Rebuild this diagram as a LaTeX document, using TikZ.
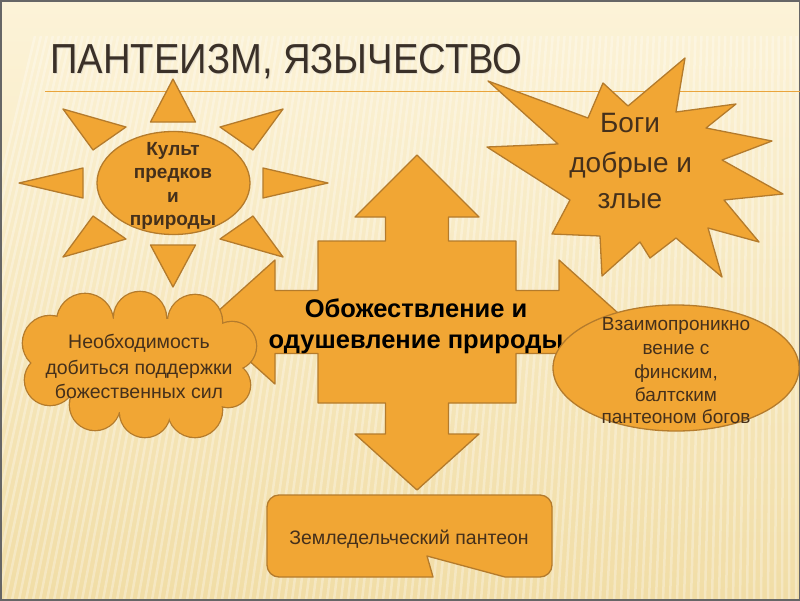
\documentclass[tikz,border=0pt]{standalone}
\usepackage{fontspec}
\setmainfont{Liberation Sans}
\definecolor{bgtop}{HTML}{FCF3D8}
\definecolor{bgbot}{HTML}{F1DDA6}
\definecolor{orf}{HTML}{F1A634}
\definecolor{orb}{HTML}{B47B2C}
\definecolor{txt}{HTML}{45301B}
\definecolor{ttl}{HTML}{3A3028}
\definecolor{lineor}{HTML}{E9A43C}
\tikzset{
  shp/.style={fill=orf, draw=orb, line width=1.3pt, line join=round},
  lbl/.style={anchor=base, inner sep=0pt, text=txt},
}
\begin{document}
\begin{tikzpicture}[x=1pt,y=-1pt]
\useasboundingbox (0,0) rectangle (800,600);
% background
\shade[top color=bgtop, bottom color=bgbot] (0,0) rectangle (800,600);
\begin{scope}
  \clip (0,36) rectangle (800,600);
  \foreach \i in {-100,-93,...,820} {
    \draw[white, opacity=0.3, line width=2.5pt] (\i,600) -- ({\i+0.15*(800-\i)},36);
  }
\end{scope}
\draw[black!60, line width=3pt] (0,0) rectangle (800,600);
% title
\node[anchor=base west, inner sep=0pt, text=black!30, opacity=0.3] at (51,74.3)
  {\fontsize{42}{48}\selectfont\scalebox{0.91}[1]{ПАНТЕИЗМ, ЯЗЫЧЕСТВО}};
\node (title) [anchor=base west, inner sep=0pt, text=ttl] at (50,73.3)
  {\fontsize{42}{48}\selectfont\scalebox{0.91}[1]{ПАНТЕИЗМ, ЯЗЫЧЕСТВО}};
\draw[lineor, line width=1.6pt] (45,91.5) -- (800,91.5);
% quad arrow
\draw[shp, shift={(417,322)}]
  (0,-167) -- (62,-105) -- (31.5,-105) -- (31.5,-81) -- (99,-81) -- (99,-31.5)
  -- (142,-31.5) -- (142,-62) -- (211,0) -- (142,62) -- (142,31.5) -- (99,31.5)
  -- (99,81) -- (31.5,81) -- (31.5,112) -- (62,112) -- (0,168) -- (-62,112)
  -- (-31.5,112) -- (-31.5,81) -- (-99,81) -- (-99,31.5) -- (-142,31.5)
  -- (-142,62) -- (-211,0) -- (-142,-62) -- (-142,-31.5) -- (-99,-31.5)
  -- (-99,-81) -- (-31.5,-81) -- (-31.5,-105) -- (-62,-105) -- cycle;
\node (qa1) [lbl, text=black, font=\bfseries\fontsize{25.5}{31}\selectfont] at (416,317) {Обожествление и};
\node (qa2) [lbl, text=black, font=\bfseries\fontsize{25.5}{31}\selectfont] at (416,348) {одушевление природы};
% sun
\foreach \a/\b/\c in {
  {(173,79)}/{(150.5,122)}/{(195.5,122)},
  {(173,287)}/{(150.5,245)}/{(195.5,245)},
  {(19,183)}/{(83,168)}/{(83,198)},
  {(328,183)}/{(263,168)}/{(263,198)},
  {(63,109)}/{(93,150)}/{(126,127)},
  {(283,109)}/{(253,150)}/{(220,127)},
  {(63,257)}/{(93,216)}/{(126,239)},
  {(283,257)}/{(253,216)}/{(220,239)}} {
  \draw[shp] \a -- \b -- \c -- cycle;
}
\draw[shp] (173.5,183) ellipse [x radius=76.5pt, y radius=51.5pt];
\node (s1) [lbl, font=\bfseries\fontsize{19}{23}\selectfont] at (173,155.5) {Культ};
\node (s2) [lbl, font=\bfseries\fontsize{19}{23}\selectfont] at (173,178.8) {предков};
\node (s3) [lbl, font=\bfseries\fontsize{19}{23}\selectfont] at (173,202.1) {и};
\node (s4) [lbl, font=\bfseries\fontsize{19}{23}\selectfont] at (173,225.4) {природы};
% star
\draw[shp] (488,81) -- (588,118) -- (603,83) -- (628,106) -- (685,58) -- (676,112)
  -- (736,104) -- (706,128) -- (772,141) -- (722,160) -- (783,194) -- (724,200)
  -- (759,242) -- (708,228) -- (722,277) -- (676,238) -- (650,258) -- (640,242)
  -- (602,276) -- (600,236) -- (552,234) -- (570,200) -- (487,147) -- (558,144) -- cycle;
\node (b1) [lbl, font=\fontsize{28}{38}\selectfont] at (630,132.7) {Боги};
\node (b2) [lbl, font=\fontsize{28}{38}\selectfont] at (630.7,172.7) {добрые и};
\node (b3) [lbl, font=\fontsize{28}{38}\selectfont] at (630,208.3) {злые};
% cloud
\def\cloudlist{85/322/28, 140/318/26, 195/322/27, 232/346/24, 228/385/22,
  195/410/27, 145/412/25, 95/405/25, 50/380/25, 50/343/27}
\foreach \x/\y/\r in \cloudlist { \draw[orb, line width=2.6pt] (\x,\y) circle [radius=\r pt]; }
\foreach \x/\y/\r in \cloudlist { \fill[orf] (\x,\y) circle [radius=\r pt]; }
\fill[orf] (140,365) ellipse [x radius=95pt, y radius=48pt];
\node (c1) [lbl, font=\fontsize{19.5}{25}\selectfont] at (139,348.3) {Необходимость};
\node (c2) [lbl, font=\fontsize{19.5}{25}\selectfont] at (139,374) {добиться поддержки};
\node (c3) [lbl, font=\fontsize{19.5}{25}\selectfont] at (139,398.3) {божественных сил};
% ellipse right
\draw[shp] (676,368) ellipse [x radius=123pt, y radius=63pt];
\node (e1) [lbl, font=\fontsize{19}{23}\selectfont] at (676,330) {Взаимопроникно};
\node (e2) [lbl, font=\fontsize{19}{23}\selectfont] at (676,354) {вение с};
\node (e3) [lbl, font=\fontsize{19}{23}\selectfont] at (676,378) {финским,};
\node (e4) [lbl, font=\fontsize{19}{23}\selectfont] at (676,401.5) {балтским};
\node (e5) [lbl, font=\fontsize{19}{23}\selectfont] at (676,423.5) {пантеоном богов};
% bottom callout box
\draw[shp] (279,495) -- (540,495) .. controls (546.6,495) and (552,500.4) .. (552,507)
  -- (552,565) .. controls (552,571.6) and (546.6,577) .. (540,577) -- (505,577)
  -- (427,556) -- (433,577) -- (279,577) .. controls (272.4,577) and (267,571.6) .. (267,565)
  -- (267,507) .. controls (267,500.4) and (272.4,495) .. (279,495) -- cycle;
\node (z1) [lbl, font=\fontsize{19.5}{24}\selectfont] at (409,544) {Земледельческий пантеон};
\end{tikzpicture}
\end{document}
